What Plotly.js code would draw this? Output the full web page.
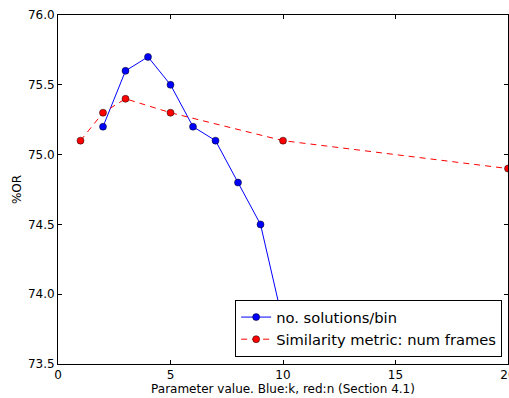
<!DOCTYPE html>
<html><head><meta charset="utf-8">
<script src="https://cdn.plot.ly/plotly-3.0.1.min.js"></script>
<style>html,body{margin:0;padding:0;background:#fff}</style>
</head><body><div id="chart" style="width:509px;height:398px"></div>
<script>
const blueX = [2, 3, 4, 5, 6, 7, 8, 9, 10];
const blueY = [75.2, 75.6, 75.7, 75.5, 75.2, 75.1, 74.8, 74.5, 73.8];
const redX = [1, 2, 3, 5, 10, 20];
const redY = [75.1, 75.3, 75.4, 75.3, 75.1, 74.9];
const xTicks = [0, 5, 10, 15, 20];
const yTicks = [73.5, 74.0, 74.5, 75.0, 75.5, 76.0];
const font = 'DejaVu Sans, sans-serif';

const traces = [
  {x: blueX, y: blueY, mode: 'lines+markers', name: 'no. solutions/bin',
   line: {color: '#0000ff', width: 1},
   marker: {color: '#0000ff', size: 7, line: {color: '#000', width: 0.5}}},
  {x: redX, y: redY, mode: 'lines+markers', name: 'Similarity metric: num frames',
   line: {color: '#ff0000', width: 1, dash: '6px,5px'},
   marker: {color: '#ff0000', size: 7, line: {color: '#000', width: 0.5}}}
];
const axisCommon = {
  showgrid: false, zeroline: false, showline: true, linecolor: '#000', linewidth: 1,
  mirror: 'ticks', ticks: 'inside', ticklen: 4, tickcolor: '#000', tickwidth: 1,
  ticklabeloverflow: 'allow',
  tickfont: {family: font, size: 12, color: '#000'}
};
const layout = {
  width: 509, height: 398,
  margin: {l: 58, r: 1, t: 15, b: 34},
  paper_bgcolor: '#fff', plot_bgcolor: '#fff',
  font: {family: font, color: '#000'},
  showlegend: true,
  legend: {x: 0.987, y: 0.02, xanchor: 'right', yanchor: 'bottom',
    bordercolor: '#000', borderwidth: 1, bgcolor: '#fff',
    font: {family: font, size: 14.7, color: '#000'}, tracegroupgap: 0},
  xaxis: Object.assign({}, axisCommon, {range: [0, 20], tickvals: xTicks,
    ticktext: xTicks.map(String),
    title: {text: 'Parameter value. Blue:k, red:n (Section 4.1)', font: {family: font, size: 12, color: '#000'}, standoff: 2}}),
  yaxis: Object.assign({}, axisCommon, {range: [73.5, 76.0], tickvals: yTicks,
    ticktext: yTicks.map(v => v.toFixed(1)),
    title: {text: '%OR', font: {family: font, size: 12, color: '#000'}, standoff: 3}})
};
Plotly.newPlot('chart', traces, layout, {displayModeBar: false, staticPlot: true});
</script></body></html>
